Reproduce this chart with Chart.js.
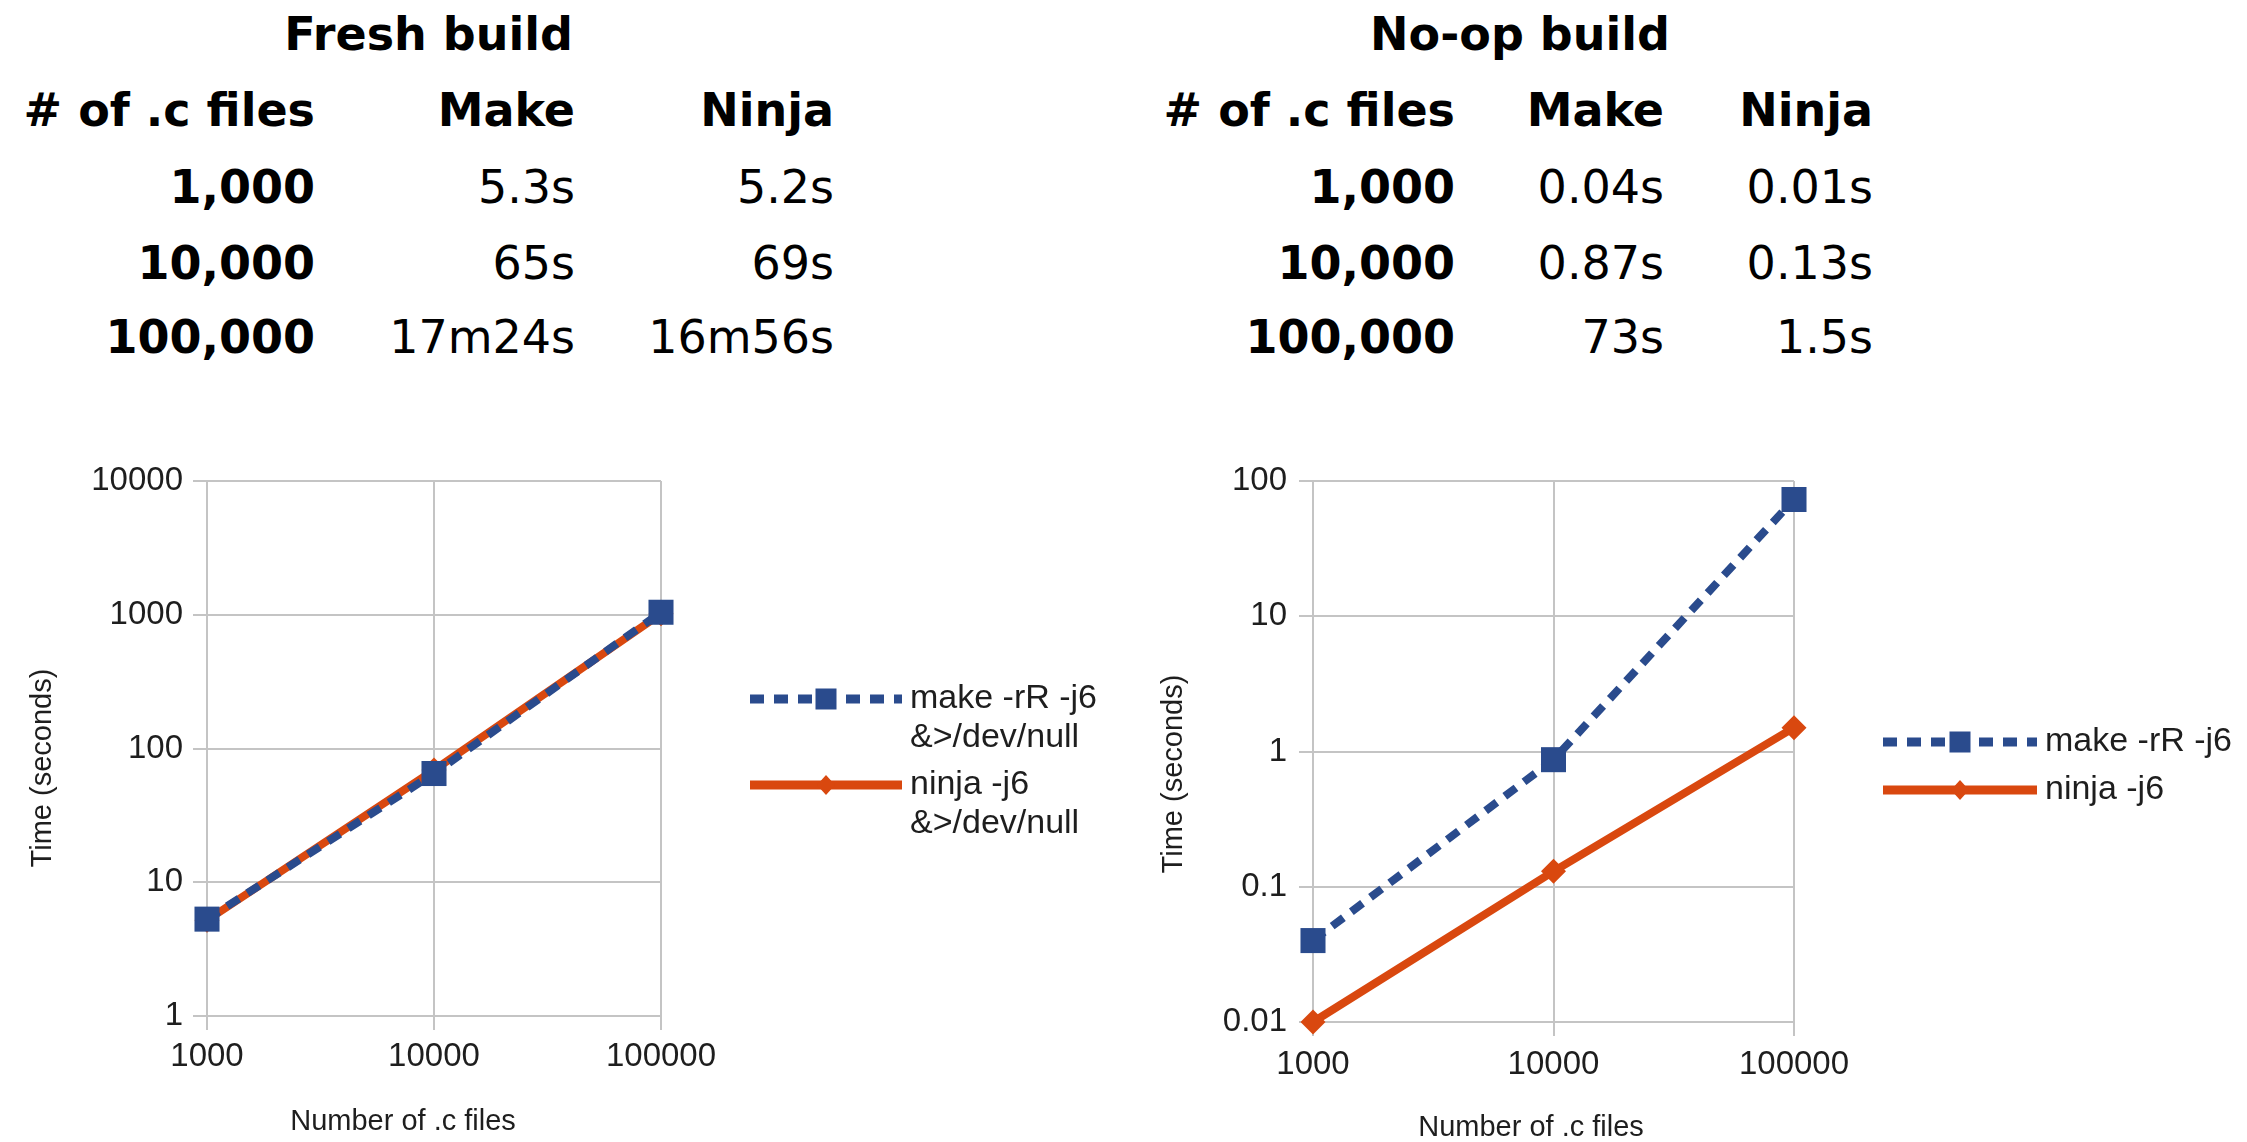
<!DOCTYPE html>
<html>
<head>
<meta charset="utf-8">
<title>Make vs Ninja</title>
<script src="https://cdn.jsdelivr.net/npm/chart.js"></script>
<style>
  html, body { margin: 0; padding: 0; background: #fff; }
  body { width: 2247px; height: 1142px; position: relative; overflow: hidden; font-family: "DejaVu Sans", sans-serif; }
  .cell { position: absolute; font-size: 46px; line-height: 50px; white-space: nowrap; color: #000; text-align: right; }
  .bold { font-weight: bold; }
  canvas { position: absolute; }
</style>
</head>
<body>
<canvas id="freshChart" width="1120" height="702" style="left:0px;top:440px"></canvas>
<canvas id="noopChart" width="1117" height="702" style="left:1130px;top:440px"></canvas>
<script>
// table text
const fileCounts = ['1,000', '10,000', '100,000'];
const freshMakeText = ['5.3s', '65s', '17m24s'];
const freshNinjaText = ['5.2s', '69s', '16m56s'];
const noopMakeText = ['0.04s', '0.87s', '73s'];
const noopNinjaText = ['0.01s', '0.13s', '1.5s'];

// chart values (seconds)
const xLabels = ['1000', '10000', '100000'];
const freshMake = [5.3, 65, 1044];
const freshNinja = [5.2, 69, 1016];
const noopMake = [0.04, 0.87, 73];
const noopNinja = [0.01, 0.13, 1.5];
const freshTicks = [1, 10, 100, 1000, 10000];
const noopTicks = [0.01, 0.1, 1, 10, 100];
const freshLegend = [['make -rR -j6', '&>/dev/null'], ['ninja -j6', '&>/dev/null']];
const noopLegend = [['make -rR -j6'], ['ninja -j6']];

const BLUE = '#2a4b8d';
const ORANGE = '#d9480f';
const GRID = '#c4c4c4';
const TEXT = '#1e1e1e';
const FONT = '"Liberation Sans", Arial, sans-serif';

// ---- tables ----
function addCell(text, right, cy, bold) {
    const d = document.createElement('div');
    d.className = 'cell' + (bold ? ' bold' : '');
    d.textContent = text;
    d.style.right = (2247 - right) + 'px';
    d.style.top = (cy - 24) + 'px';
    document.body.appendChild(d);
}

function buildTable(title, titleRight, cols, makeText, ninjaText) {
    const rowsY = [186, 262, 336];
    addCell(title, titleRight, 33, true);
    addCell('# of .c files', cols[0], 109, true);
    addCell('Make', cols[1], 109, true);
    addCell('Ninja', cols[2], 109, true);
    fileCounts.forEach(function(n, i) {
        addCell(n, cols[0], rowsY[i], true);
        addCell(makeText[i], cols[1], rowsY[i], false);
        addCell(ninjaText[i], cols[2], rowsY[i], false);
    });
}

buildTable('Fresh build', 573, [315, 575, 834], freshMakeText, freshNinjaText);
buildTable('No-op build', 1670, [1455, 1664, 1873], noopMakeText, noopNinjaText);

// ---- axis titles + legend drawn onto the canvas ----
const overlayPlugin = {
    id: 'overlay',
    afterDraw(chart, args, opts) {
        const ctx = chart.ctx;
        ctx.save();
        ctx.fillStyle = TEXT;
        ctx.font = '29px ' + FONT;
        ctx.textAlign = 'center';
        ctx.textBaseline = 'middle';
        ctx.fillText('Number of .c files', opts.xTitle[0], opts.xTitle[1]);
        ctx.translate(opts.yTitle[0], opts.yTitle[1]);
        ctx.rotate(-Math.PI / 2);
        ctx.fillText('Time (seconds)', 0, 0);
        ctx.restore();

        chart.data.datasets.forEach(function(ds, i) {
            const y = opts.legendY[i];
            const mid = (opts.legendX[0] + opts.legendX[1]) / 2;
            ctx.save();
            ctx.strokeStyle = ds.borderColor;
            ctx.lineWidth = 9;
            ctx.setLineDash(ds.borderDash || []);
            ctx.beginPath();
            ctx.moveTo(opts.legendX[0], y);
            ctx.lineTo(opts.legendX[1], y);
            ctx.stroke();
            ctx.setLineDash([]);
            ctx.fillStyle = ds.borderColor;
            if (ds.pointStyle === 'rect') {
                ctx.fillRect(mid - 10.5, y - 10.5, 21, 21);
            } else {
                ctx.beginPath();
                ctx.moveTo(mid, y - 10);
                ctx.lineTo(mid + 9, y);
                ctx.lineTo(mid, y + 10);
                ctx.lineTo(mid - 9, y);
                ctx.closePath();
                ctx.fill();
            }
            ctx.fillStyle = TEXT;
            ctx.font = '34px ' + FONT;
            ctx.textAlign = 'left';
            ctx.textBaseline = 'middle';
            opts.labels[i].forEach(function(line, k) {
                ctx.fillText(line, opts.legendX[1] + 8, y + k * 39);
            });
            ctx.restore();
        });
    }
};

function buildChart(id, makeData, ninjaData, yTicks, legendLines, L) {
    const canvas = document.getElementById(id);
    const H = canvas.height, W = canvas.width;
    return new Chart(canvas.getContext('2d'), {
        type: 'line',
        data: {
            labels: xLabels,
            datasets: [{
                label: legendLines[0].join(' '),
                data: makeData,
                borderColor: BLUE,
                backgroundColor: BLUE,
                borderWidth: 8,
                borderDash: [14, 10],
                pointStyle: 'rect',
                pointRadius: 17.7,
                pointBorderWidth: 0,
                pointBackgroundColor: BLUE,
                tension: 0,
                clip: false
            }, {
                label: legendLines[1].join(' '),
                data: ninjaData,
                borderColor: ORANGE,
                backgroundColor: ORANGE,
                borderWidth: 8,
                pointStyle: 'rectRot',
                pointRadius: 12.5,
                pointBorderWidth: 0,
                pointBackgroundColor: ORANGE,
                tension: 0,
                clip: false
            }]
        },
        options: {
            responsive: false,
            animation: false,
            events: [],
            layout: { padding: { top: L.top, right: W - L.right, left: 0, bottom: 0 } },
            plugins: {
                legend: { display: false },
                tooltip: { enabled: false },
                overlay: {
                    xTitle: L.xTitle,
                    yTitle: L.yTitle,
                    legendX: L.legendX,
                    legendY: L.legendY,
                    labels: legendLines
                }
            },
            scales: {
                x: {
                    type: 'category',
                    offset: false,
                    afterFit: function(scale) { scale.height = H - L.bottom; },
                    grid: { color: GRID, lineWidth: 2, tickLength: 14 },
                    border: { color: GRID, width: 2 },
                    ticks: {
                        color: TEXT, padding: L.xPad, maxRotation: 0, autoSkip: false,
                        font: { family: FONT, size: 33 }
                    }
                },
                y: {
                    type: 'logarithmic',
                    min: yTicks[0],
                    max: yTicks[yTicks.length - 1],
                    afterFit: function(scale) { scale.width = L.left; },
                    afterBuildTicks: function(scale) {
                        scale.ticks = yTicks.map(function(v) { return { value: v }; });
                    },
                    grid: { color: GRID, lineWidth: 2, tickLength: 14 },
                    border: { color: GRID, width: 2 },
                    ticks: {
                        color: TEXT, padding: L.yPad,
                        font: { family: FONT, size: 33 },
                        callback: function(v) { return String(v); }
                    }
                }
            }
        },
        plugins: [overlayPlugin]
    });
}

buildChart('freshChart', freshMake, freshNinja, freshTicks, freshLegend, {
    left: 207, right: 661, top: 41, bottom: 576, xPad: 7, yPad: 10,
    xTitle: [403, 682], yTitle: [43, 328],
    legendX: [750, 902], legendY: [259, 345]
});

buildChart('noopChart', noopMake, noopNinja, noopTicks, noopLegend, {
    left: 183, right: 664, top: 41, bottom: 582, xPad: 9, yPad: 12,
    xTitle: [401, 688], yTitle: [44, 334],
    legendX: [753, 907], legendY: [302, 350]
});
</script>
</body>
</html>
